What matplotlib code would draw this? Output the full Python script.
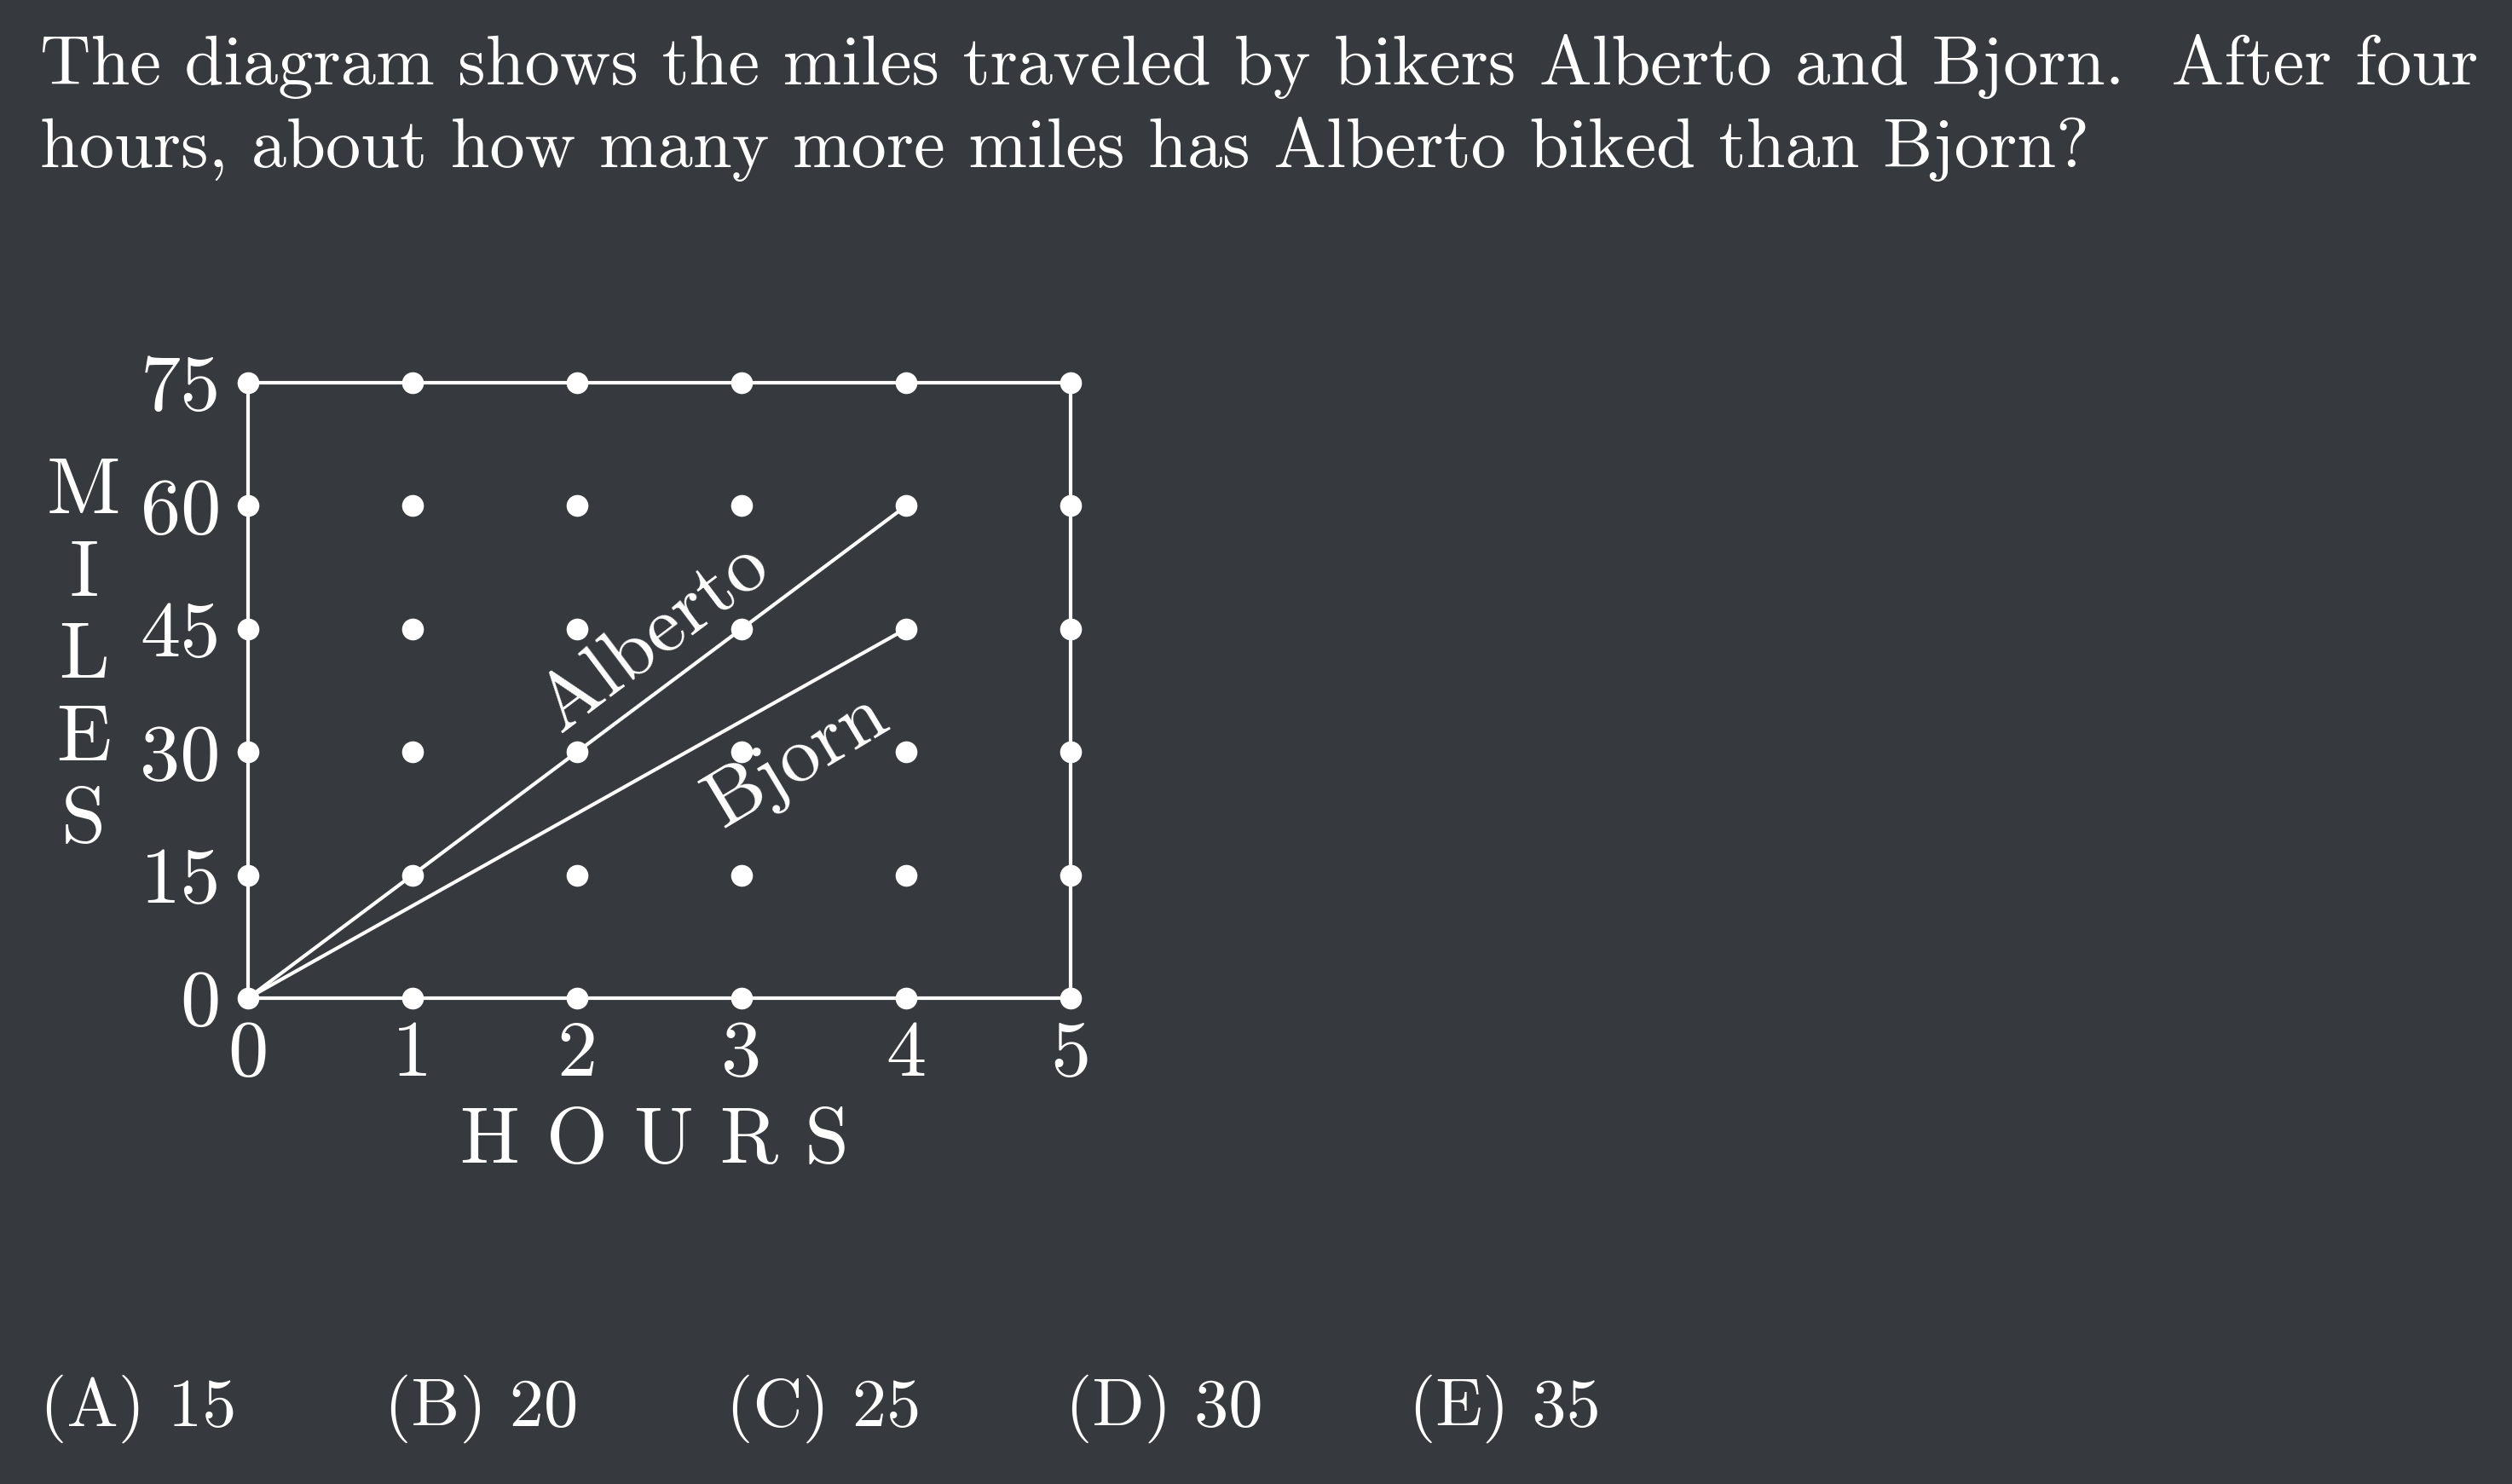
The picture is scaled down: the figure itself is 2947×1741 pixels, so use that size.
import matplotlib
matplotlib.use('Agg')
import matplotlib.pyplot as plt
import numpy as np

BG = '#36393e'
FG = 'white'

question = ("The diagram shows the miles traveled by bikers Alberto and Bjorn.  After four\n"
            "hours, about how many more miles has Alberto biked than Bjorn?")
hours = [0, 1, 2, 3, 4, 5]
miles_ticks = [0, 15, 30, 45, 60, 75]
alberto_hours = [0, 1, 2, 3, 4]
alberto_miles = [0, 15, 30, 45, 60]
bjorn_hours = [0, 4]
bjorn_miles = [0, 45]
choices = ['(A) 15', '(B) 20', '(C) 25', '(D) 30', '(E) 35']

plt.rcParams['font.family'] = 'cmr10'
plt.rcParams['mathtext.fontset'] = 'cm'
plt.rcParams['axes.formatter.use_mathtext'] = True

fig = plt.figure(figsize=(29.47, 17.41), dpi=100, facecolor=BG)
ax = fig.add_axes([0.0987, 0.3274, 0.3275, 0.4147])
ax.set_facecolor(BG)
ax.set_xlim(0, 5)
ax.set_ylim(0, 75)

for s in ax.spines.values():
    s.set_color(FG)
    s.set_linewidth(3)

ax.plot(alberto_hours, alberto_miles, color=FG, lw=3, zorder=3, clip_on=False)
ax.plot(bjorn_hours, bjorn_miles, color=FG, lw=3, zorder=3, clip_on=False)

# dot grid at every hour / 15 miles
gx, gy = np.meshgrid(hours, miles_ticks)
ax.scatter(gx.ravel(), gy.ravel(), s=340, color=FG, zorder=4, clip_on=False, linewidths=0)

ax.text(2.47, 44, 'Alberto', rotation=37, color=FG, fontsize=68,
        ha='center', va='center', rotation_mode='anchor', zorder=5)
ax.text(3.34, 28.9, 'Bjorn', rotation=31, color=FG, fontsize=68,
        ha='center', va='center', rotation_mode='anchor', zorder=5)

ax.set_xticks(hours)
ax.set_xticklabels([str(h) for h in hours])
ax.set_yticks(miles_ticks)
ax.set_yticklabels([str(m) for m in miles_ticks])
ax.tick_params(length=0, colors=FG, labelsize=68)
ax.tick_params(axis='x', pad=19)
ax.tick_params(axis='y', pad=23)

fig.text(0.016, 0.977, question, color=FG, fontsize=59.4, ha='left', va='top',
         linespacing=1.36)

fig.text(0.2606, 0.230, 'H O U R S', color=FG, fontsize=67, ha='center', va='center')
for i, ch in enumerate('MILES'):
    fig.text(0.0333, 0.6674 - i * 0.0554, ch, color=FG, fontsize=68,
             ha='center', va='center')

choice_x = [0.016, 0.153, 0.289, 0.424, 0.561]
for cx, c in zip(choice_x, choices):
    fig.text(cx, 0.051, c, color=FG, fontsize=58, ha='left', va='center')

fig.savefig('out.png', dpi=100, facecolor=BG)
